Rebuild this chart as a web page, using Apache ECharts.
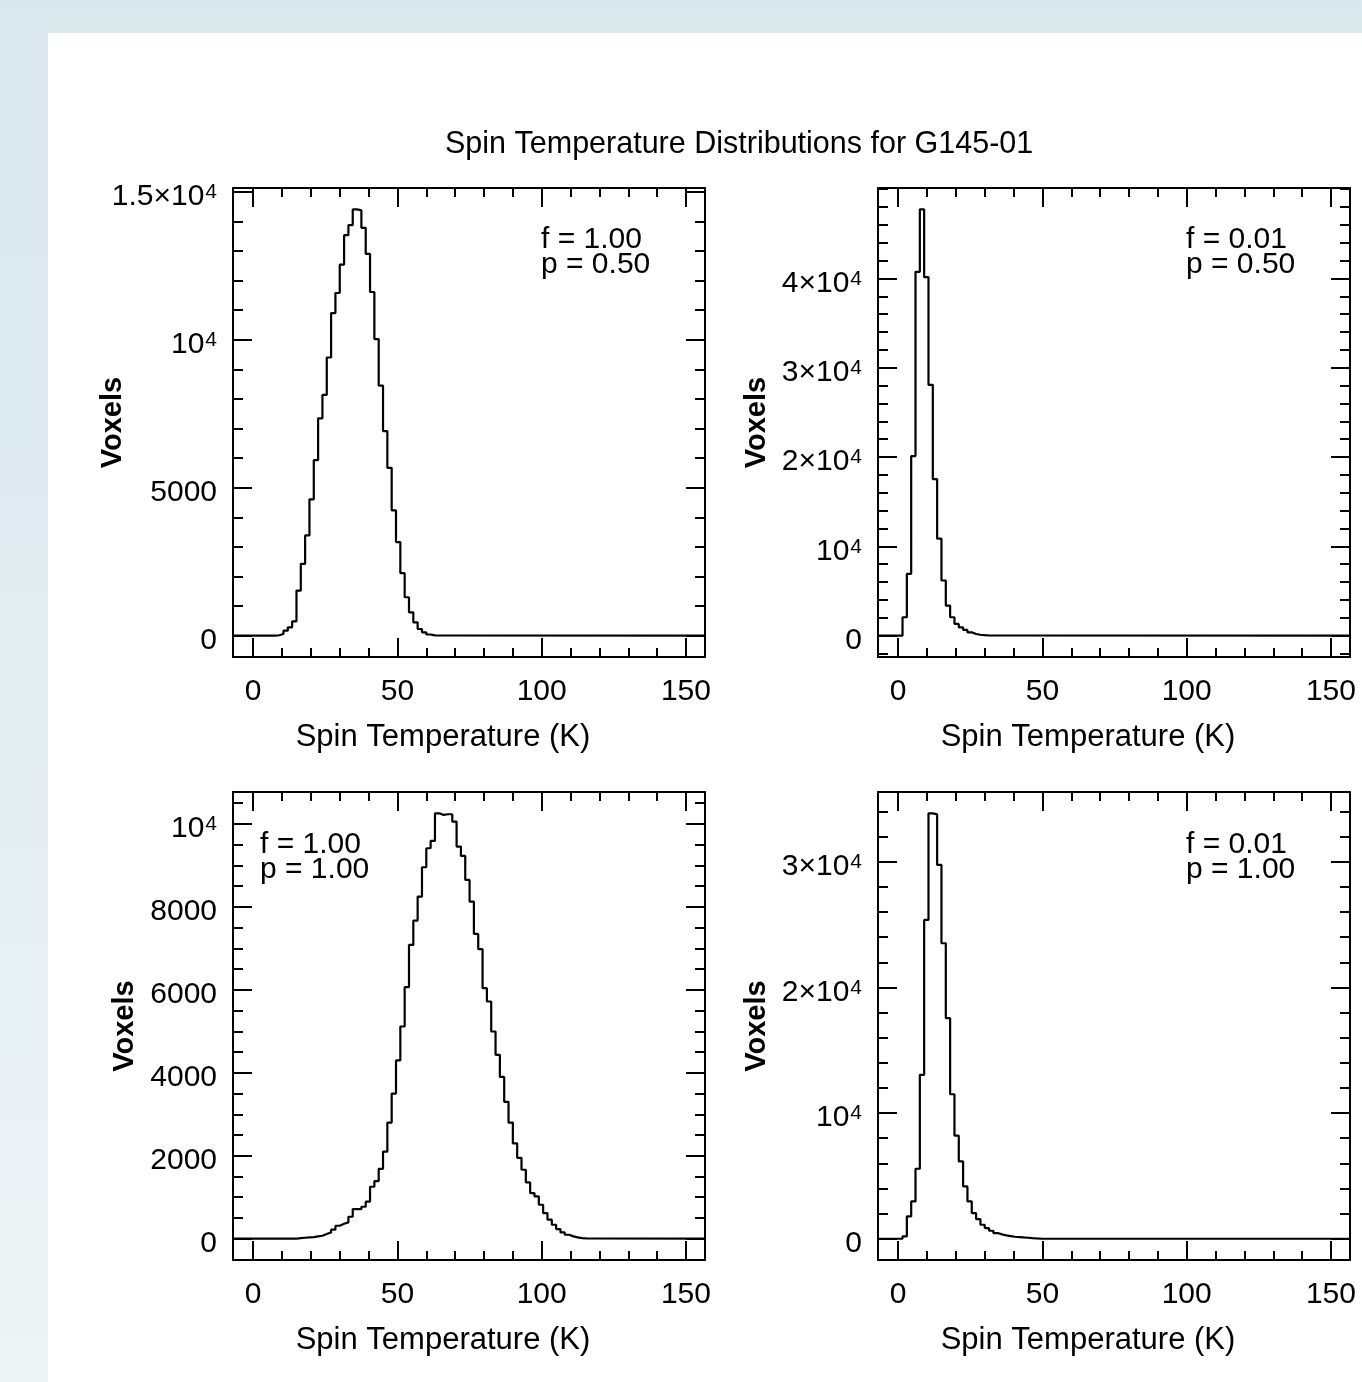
<!DOCTYPE html>
<html>
<head>
<meta charset="utf-8">
<title>Spin Temperature Distributions for G145-01</title>
<script src="https://cdn.jsdelivr.net/npm/echarts@6/dist/echarts.min.js"></script>
<style>
  html, body { margin: 0; padding: 0; }
  body {
    position: relative;
    width: 1362px;
    height: 1382px;
    overflow: hidden;
    background: linear-gradient(to bottom, #d9e8ed 0%, #e2edf1 50%, #edf4f6 100%);
  }
  .sheet { position: absolute; left: 48px; top: 33px; right: 0; bottom: 0; background: #fff; }
  #chart { position: absolute; left: 0; top: 0; width: 1362px; height: 1382px; }
</style>
</head>
<body>
<div class="sheet"></div>
<div id="chart"></div>
<script>
// histogram bins are 1.5 K wide, counts listed from the first non-empty bin
const binWidth = 1.5
const xRange = [-7, 156.6]
const xMajor = [0, 50, 100, 150]
const xMinor = [10, 20, 30, 40, 60, 70, 80, 90, 110, 120, 130, 140]

// f = 1.00, p = 0.50
const p1Start = 7.5
const p1Counts = [15, 56, 169, 282, 486, 1525, 2429, 3390, 4610, 5932, 7345, 8136, 9401, 10904,
  11582, 12542, 13537, 13876, 14407, 14373, 13785, 12904, 11616, 10023, 8452, 6915, 5672, 4237,
  3164, 2113, 1299, 791, 452, 226, 113, 40, 10]
const p1YRange = [-720, 15130]
const p1YMajor = [0, 5000, 10000, 15000]
const p1YLabels = ['0', '5000', '10^4', '1.5×10^4']
const p1Note = ['f = 1.00', 'p = 0.50']

// f = 0.01, p = 0.50
const p2Start = 1.5
const p2Counts = [2060, 6929, 20112, 40749, 47753, 40150, 28090, 17528, 10861, 6180, 3371, 2060,
  1311, 936, 637, 375, 187, 100, 50, 20]
const p2YRange = [-2390, 50140]
const p2YMajor = [0, 10000, 20000, 30000, 40000]
const p2YLabels = ['0', '10^4', '2×10^4', '3×10^4', '4×10^4']
const p2Note = ['f = 0.01', 'p = 0.50']

// f = 1.00, p = 1.00
const p3Start = 15
const p3Counts = [16, 24, 32, 40, 56, 72, 112, 153, 217, 313, 361, 393, 530, 715, 715, 771, 892,
  1253, 1390, 1686, 2100, 2800, 3500, 4300, 5116, 6064, 7084, 7671, 8249, 8956, 9414, 9590, 10257,
  10217, 10233, 10233, 10056, 9454, 9229, 8651, 8128, 7349, 6980, 6040, 5719, 4996, 4434, 3900,
  3300, 2800, 2300, 1950, 1663, 1357, 1100, 1020, 819, 618, 458, 337, 233, 153, 96, 56, 32, 16, 8]
const p3YRange = [-513, 10770]
const p3YMajor = [0, 2000, 4000, 6000, 8000, 10000]
const p3YLabels = ['0', '2000', '4000', '6000', '8000', '10^4']
const p3Note = ['f = 1.00', 'p = 1.00']

// f = 0.01, p = 1.00
const p4Start = 1.5
const p4Counts = [186, 1777, 2970, 5569, 13047, 25378, 33864, 33784, 29753, 23522, 17555, 11500,
  8200, 6152, 4163, 2970, 2042, 1565, 1114, 849, 637, 451, 345, 265, 212, 159, 133, 106, 80, 53, 27, 13]
const p4YRange = [-1693, 35560]
const p4YMajor = [0, 10000, 20000, 30000]
const p4YLabels = ['0', '10^4', '2×10^4', '3×10^4']
const p4Note = ['f = 0.01', 'p = 1.00']

const fontFamily = '"Liberation Sans", Arial, Helvetica, sans-serif'
const black = '#000'

const panels = [
  { grid: { left: 233, top: 188, width: 472, height: 469 }, start: p1Start, counts: p1Counts,
    yRange: p1YRange, yMajor: p1YMajor, yLabels: p1YLabels, yMinorStep: 1000,
    note: p1Note, noteAt: [541, 225], nameGap: 106 },
  { grid: { left: 878, top: 188, width: 472, height: 469 }, start: p2Start, counts: p2Counts,
    yRange: p2YRange, yMajor: p2YMajor, yLabels: p2YLabels, yMinorStep: 2000,
    note: p2Note, noteAt: [1186, 225], nameGap: 107 },
  { grid: { left: 233, top: 792, width: 472, height: 468 }, start: p3Start, counts: p3Counts,
    yRange: p3YRange, yMajor: p3YMajor, yLabels: p3YLabels, yMinorStep: 500,
    note: p3Note, noteAt: [260, 830], nameGap: 94 },
  { grid: { left: 878, top: 792, width: 472, height: 468 }, start: p4Start, counts: p4Counts,
    yRange: p4YRange, yMajor: p4YMajor, yLabels: p4YLabels, yMinorStep: 2000,
    note: p4Note, noteAt: [1186, 830], nameGap: 107 }
]

const lineStyle = { color: black, width: 2 }
const boxLine = { show: true, onZero: false, lineStyle }
const noLine = { show: false, onZero: false }

const minorTicks = (range, step, major) => {
  const out = []
  for (let v = Math.ceil(range[0] / step) * step; v <= range[1]; v += step) {
    if (!major.includes(v)) out.push(v)
  }
  return out
}

// '1.5×10^4' -> rich text with superscript
const richLabel = (s) => {
  const m = s.match(/^(.*)\^(\d+)$/)
  return m ? `{n|${m[1]}}{s|${m[2]}}` : s
}

const histData = (start, counts) => {
  const pts = [[xRange[0], 0], [start, 0]]
  counts.forEach((c, i) => pts.push([start + i * binWidth, c]))
  pts.push([start + counts.length * binWidth, 0])
  pts.push([xRange[1], 0])
  return pts
}

const xAxes = []
const yAxes = []
const series = []

panels.forEach((p, g) => {
  const xBase = { type: 'value', gridIndex: g, min: xRange[0], max: xRange[1], splitLine: { show: false } }
  const tick = (values, length) => ({ inside: true, length, customValues: values, lineStyle })
  xAxes.push(
    { ...xBase, position: 'bottom', axisLine: boxLine,
      axisTick: tick(xMajor, 19),
      axisLabel: { customValues: xMajor, margin: 20, fontSize: 30, color: black, fontFamily },
      name: 'Spin Temperature (K)', nameLocation: 'middle', nameGap: 65, nameMoveOverlap: false,
      nameTextStyle: { fontSize: 31, color: black, fontFamily, padding: [0, 52, 0, 0] } },
    { ...xBase, position: 'bottom', axisLine: noLine, axisTick: tick(xMinor, 9), axisLabel: { show: false } },
    { ...xBase, position: 'top', axisLine: boxLine, axisTick: tick(xMajor, 19), axisLabel: { show: false } },
    { ...xBase, position: 'top', axisLine: noLine, axisTick: tick(xMinor, 9), axisLabel: { show: false } }
  )

  const yBase = { type: 'value', gridIndex: g, min: p.yRange[0], max: p.yRange[1], splitLine: { show: false } }
  const yMinor = minorTicks(p.yRange, p.yMinorStep, p.yMajor)
  yAxes.push(
    { ...yBase, position: 'left', axisLine: boxLine,
      axisTick: tick(p.yMajor, 19),
      axisLabel: {
        customValues: p.yMajor, margin: 16, padding: [10, 0, 0, 0],
        fontSize: 30, color: black, fontFamily,
        formatter: (v) => richLabel(p.yLabels[p.yMajor.indexOf(v)] || ''),
        rich: {
          n: { fontSize: 30, color: black, fontFamily },
          s: { fontSize: 21, color: black, fontFamily, verticalAlign: 'top', padding: [0, 0, 0, 1] }
        }
      },
      name: 'Voxels', nameLocation: 'middle', nameGap: p.nameGap, nameMoveOverlap: false,
      nameTextStyle: { fontSize: 29, fontWeight: 'bold', color: black, fontFamily } },
    { ...yBase, position: 'left', axisLine: noLine, axisTick: tick(yMinor, 10), axisLabel: { show: false } },
    { ...yBase, position: 'right', axisLine: boxLine, axisTick: tick(p.yMajor, 19), axisLabel: { show: false } },
    { ...yBase, position: 'right', axisLine: noLine, axisTick: tick(yMinor, 10), axisLabel: { show: false } }
  )

  series.push({
    type: 'line',
    xAxisIndex: g * 4,
    yAxisIndex: g * 4,
    data: histData(p.start, p.counts),
    step: 'end',
    symbol: 'none',
    silent: true,
    lineStyle: { color: black, width: 2.2 }
  })
})

const chart = echarts.init(document.getElementById('chart'), null, { renderer: 'canvas' })

chart.setOption({
  animation: false,
  backgroundColor: 'transparent',
  title: {
    text: 'Spin Temperature Distributions for G145-01',
    left: 440,
    top: 124,
    textStyle: { fontSize: 30.5, fontWeight: 'normal', color: black, fontFamily }
  },
  grid: panels.map(p => ({ ...p.grid, containLabel: false })),
  xAxis: xAxes,
  yAxis: yAxes,
  series,
  graphic: panels.map(p => ({
    type: 'text',
    left: p.noteAt[0],
    top: p.noteAt[1],
    silent: true,
    style: { text: p.note.join('\n'), fontSize: 30, fontFamily, fill: black, lineHeight: 25 }
  }))
})

window.addEventListener('resize', () => {
  chart.resize()
})
</script>
</body>
</html>
